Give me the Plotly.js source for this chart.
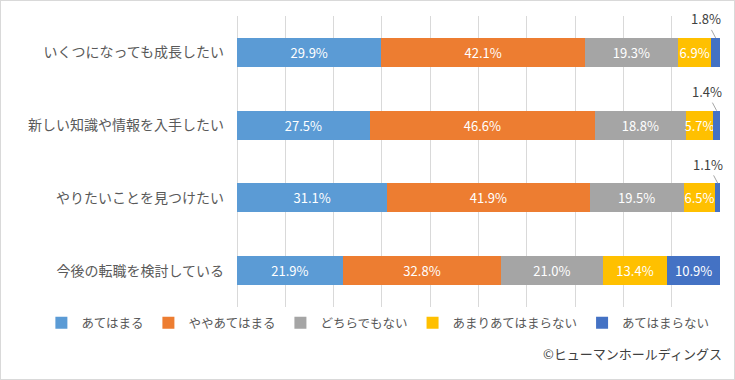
<!DOCTYPE html>
<html><head><meta charset="utf-8">
<script src="https://cdn.plot.ly/plotly-3.0.1.min.js"></script>
<style>
html,body{margin:0;padding:0;background:#fff;}
#chart{width:733px;height:378px;border:1px solid #d9d9d9;}
</style>
</head><body>
<div id="chart"></div>
<script>
const categories = ['いくつになっても成長したい','新しい知識や情報を入手したい','やりたいことを見つけたい','今後の転職を検討している'];
const seriesNames = ['あてはまる','ややあてはまる','どちらでもない','あまりあてはまらない','あてはまらない'];
const s1 = [29.9, 27.5, 31.1, 21.9];
const s2 = [42.1, 46.6, 41.9, 32.8];
const s3 = [19.3, 18.8, 19.5, 21.0];
const s4 = [6.9, 5.7, 6.5, 13.4];
const s5 = [1.8, 1.4, 1.1, 10.9];
const colors = ['#5B9BD5','#ED7D31','#A5A5A5','#FFC000','#4472C4'];
const copyright = '©ヒューマンホールディングス';

const FONT = '"Noto Sans CJK JP", "Noto Sans", sans-serif';
const series = [s1,s2,s3,s4,s5];
const traces = series.map((vals,i)=>({
  type:'bar', orientation:'h', name:seriesNames[i],
  x:vals, y:categories,
  marker:{color:colors[i]},
  text: vals.map(v => v >= 5 ? v.toFixed(1)+'%' : ''),
  textposition:'inside', insidetextanchor:'middle', textangle:0, constraintext:'none',
  textfont:{color:'#ffffff', size:13, family:FONT},
  hoverinfo:'x+name'
}));

const annotations = [];
s5.forEach((v,j)=>{
  if (v < 5) {
    const start = s1[j]+s2[j]+s3[j]+s4[j];
    annotations.push({
      x: start + v/2, y: categories[j], xref:'x', yref:'y',
      yshift: 14.5, ax: -10, ay: -19,
      text: v.toFixed(1)+'%', showarrow:true, arrowhead:0, arrowwidth:1,
      arrowcolor:'#a6a6a6', font:{size:13, color:'#404040', family:FONT}
    });
  }
});
annotations.push({
  text: copyright, xref:'paper', yref:'paper', x:1, y:-0.161,
  xanchor:'right', yanchor:'middle', xshift:4, showarrow:false,
  font:{size:13, color:'#404040', family:FONT}
});

const layout = {
  width:733, height:378,
  margin:{l:235.5, r:14, t:14.6, b:72, autoexpand:false},
  paper_bgcolor:'#ffffff', plot_bgcolor:'#ffffff',
  font:{family:FONT, color:'#595959'},
  barmode:'stack', bargap:0.6,
  showlegend:true,
  xaxis:{range:[0,100], dtick:10, showgrid:true, gridcolor:'#d9d9d9', gridwidth:1,
         zeroline:true, zerolinecolor:'#d9d9d9', zerolinewidth:1,
         showticklabels:false, ticks:'', fixedrange:true},
  yaxis:{type:'category', autorange:'reversed', ticks:'', showgrid:false,
         tickfont:{size:14, color:'#595959', family:FONT}, ticklabelstandoff:12, fixedrange:true},
  legend:{orientation:'h', xref:'paper', yref:'paper', x:-0.405, xanchor:'left',
          y:-0.055, yanchor:'middle', font:{size:12.5, color:'#595959', family:FONT},
          itemwidth:30, itemgap:5, traceorder:'normal'},
  uniformtext:{mode:'show', minsize:13},
  annotations: annotations
};
Plotly.newPlot('chart', traces, layout, {displayModeBar:false, staticPlot:true});
</script>
</body></html>
